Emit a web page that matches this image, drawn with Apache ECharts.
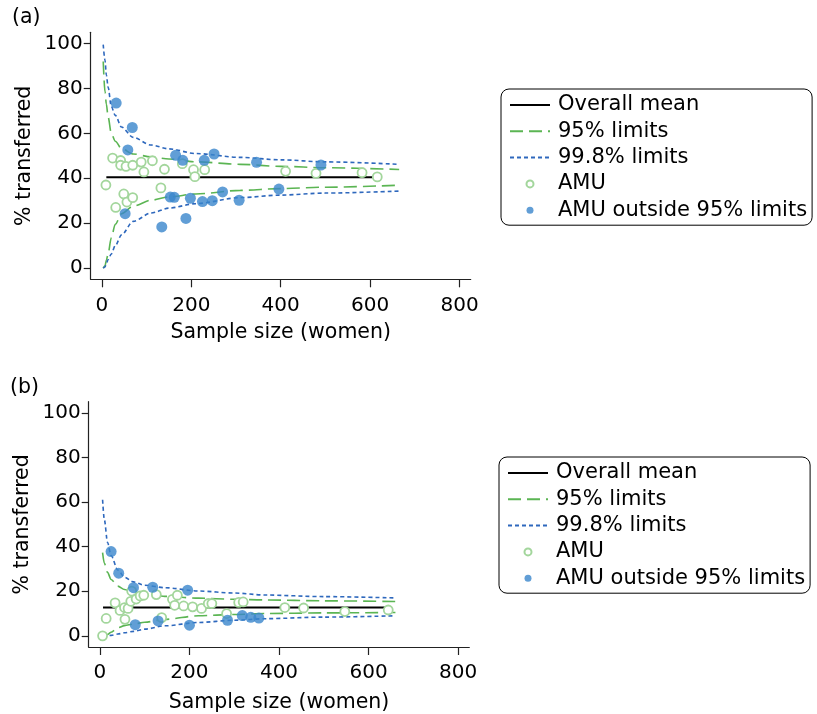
<!DOCTYPE html>
<html>
<head>
<meta charset="utf-8">
<script src="https://cdn.jsdelivr.net/npm/echarts@6/dist/echarts.min.js"></script>
<style>
html,body{margin:0;padding:0;background:#fff;}
#chart{width:817px;height:714px;}
</style>
</head>
<body>
<div id="chart"></div>
<script>
// ---------- Tick labels ----------
const xTicks = [0, 200, 400, 600, 800];
const yTicks = [0, 20, 40, 60, 80, 100];

// ---------- Panel (a) ----------
const aMean = 40.5;
const aMeanFrom = 10;
const aMeanTo = 615;
const aCurveN   = [3, 7, 10, 14, 21, 30, 44, 70, 110, 150, 210, 310, 400, 500, 665];
const aUpper998 = [99.5, 92.5, 86, 80.5, 72, 68, 62.8, 58.2, 54.8, 53.1, 51.0, 49.3, 48.2, 47.3, 46.2];
const aUpper95  = [92, 78.5, 73, 67.3, 60, 56.5, 53.2, 50.8, 49.5, 48.6, 47.3, 46.2, 45.3, 44.7, 43.9];
const aLower95  = [0, 1, 3.5, 6.4, 13.5, 19.5, 24.2, 27.6, 30.2, 31.7, 33.0, 34.6, 35.4, 36.0, 36.9];
const aLower998 = [0, 0.5, 2, 3.8, 6.3, 10, 14.8, 20.8, 24.5, 26.7, 28.7, 31.4, 32.5, 33.4, 34.3];
const aAmuN   = [9, 24, 42, 42, 54, 69, 88, 94, 113, 140, 180, 205, 208, 230, 49, 56, 69, 31, 132, 411, 479, 582, 616];
const aAmuPct = [37.0, 49.0, 47.9, 45.8, 45.3, 45.8, 47.2, 42.8, 47.8, 44.0, 46.5, 43.8, 40.7, 43.8, 33.0, 29.4, 31.4, 27.0, 35.7, 43.1, 42.2, 42.5, 40.6];
const aOutN   = [32, 68, 58, 165, 181, 251, 229, 346, 490, 52, 134, 188, 153, 162, 198, 225, 247, 270, 307, 396];
const aOutPct = [73.5, 62.6, 52.6, 50.2, 48.0, 50.8, 48.0, 47.1, 45.9, 24.2, 18.3, 22.1, 31.6, 31.5, 31.1, 29.6, 30.0, 33.9, 30.2, 35.2];

// ---------- Panel (b) ----------
const bMean = 12.7;
const bMeanFrom = 7;
const bMeanTo = 641;
const bCurveN   = [6, 10, 17, 25, 40, 55, 75, 100, 145, 220, 300, 370, 500, 660];
const bUpper998 = [61, 52, 42, 36, 29.5, 26.3, 24.2, 22.7, 21.6, 20.1, 19.2, 18.3, 17.6, 17.0];
const bUpper95  = [37.3, 32.5, 28.5, 25.3, 22.3, 20.8, 19.5, 18.7, 17.7, 16.9, 16.4, 16.1, 15.7, 15.4];
const bLower95  = [0, 0, 0.6, 1.6, 3.6, 4.6, 5.3, 6.1, 7.4, 9.0, 9.6, 10.0, 10.3, 10.5];
const bLower998 = [0, 0, 0, 0.2, 0.8, 1.4, 2.0, 3.0, 4.5, 6.0, 7.0, 7.7, 8.4, 9.0];
const bAmuN   = [6, 14, 34, 45, 55, 56, 63, 69, 71, 81, 90, 98, 126, 138, 162, 167, 173, 187, 207, 227, 242, 250, 283, 310, 320, 413, 455, 547, 644];
const bAmuPct = [0, 7.8, 14.8, 11.4, 12.7, 7.4, 12.3, 15.5, 20.1, 16.5, 17.9, 18.2, 18.5, 8.2, 16.4, 13.7, 18.2, 13.4, 13.0, 12.3, 14.5, 14.5, 10.0, 15.0, 15.2, 12.7, 12.5, 10.9, 11.6];
const bOutN   = [25, 42, 75, 118, 196, 79, 130, 200, 285, 318, 337, 355];
const bOutPct = [37.8, 28.1, 21.6, 21.8, 20.5, 5.0, 6.7, 4.8, 7.0, 9.1, 8.3, 8.0];

// ---------- Style ----------
const FONT = 'DejaVu Sans';
const GREEN = '#5bb553';
const GREEN_LIGHT = '#a3d69c';
const BLUE = '#3a86cc';
const BLUE_LINE = '#2e68bd';

const zip = (xs, ys) => xs.map((x, i) => [x, ys[i]]);

function axes(idx, xNameGap) {
  return {
    x: {
      type: 'value', gridIndex: idx, min: -25, max: 825,
      name: 'Sample size (women)', nameLocation: 'middle', nameGap: xNameGap,
      nameTextStyle: {fontFamily: FONT, fontSize: 20.5, color: '#000'},
      axisLine: {show: true, onZero: false, lineStyle: {color: '#222', width: 1.2}},
      axisTick: {show: true, length: 8, customValues: xTicks, lineStyle: {color: '#222', width: 1.2}},
      axisLabel: {customValues: xTicks, fontFamily: FONT, fontSize: 20, color: '#000', margin: 16},
      splitLine: {show: false}
    },
    y: {
      type: 'value', gridIndex: idx, min: -5, max: 105,
      name: '% transferred', nameLocation: 'middle', nameGap: 56,
      nameTextStyle: {fontFamily: FONT, fontSize: 20.5, color: '#000'},
      axisLine: {show: true, onZero: false, lineStyle: {color: '#222', width: 1.2}},
      axisTick: {show: true, length: 7, customValues: yTicks, lineStyle: {color: '#222', width: 1.2}},
      axisLabel: {customValues: yTicks, fontFamily: FONT, fontSize: 20, color: '#000', margin: 8},
      splitLine: {show: false}
    }
  };
}

function panelSeries(idx, d) {
  const common = {xAxisIndex: idx, yAxisIndex: idx, silent: true, animation: false};
  const lineCommon = Object.assign({type: 'line', symbol: 'none', smooth: 0.3, smoothMonotone: 'x'}, common);
  return [
    Object.assign({}, lineCommon, {name: 'Overall mean', smooth: false,
      data: [[d.meanFrom, d.mean], [d.meanTo, d.mean]],
      lineStyle: {color: '#000', width: 2}, itemStyle: {color: '#000'}, z: 3}),
    Object.assign({}, lineCommon, {name: '95% limits', data: zip(d.n, d.u95),
      lineStyle: {color: GREEN, width: 1.6, type: [13, 6]}, itemStyle: {color: GREEN}, z: 2}),
    Object.assign({}, lineCommon, {name: '95% limits', data: zip(d.n, d.l95),
      lineStyle: {color: GREEN, width: 1.6, type: [13, 6]}, itemStyle: {color: GREEN}, z: 2}),
    Object.assign({}, lineCommon, {name: '99.8% limits', data: zip(d.n, d.u998),
      lineStyle: {color: BLUE_LINE, width: 1.6, type: [4, 3]}, itemStyle: {color: BLUE_LINE}, z: 2}),
    Object.assign({}, lineCommon, {name: '99.8% limits', data: zip(d.n, d.l998),
      lineStyle: {color: BLUE_LINE, width: 1.6, type: [4, 3]}, itemStyle: {color: BLUE_LINE}, z: 2}),
    Object.assign({type: 'scatter', name: 'AMU', symbol: 'circle', symbolSize: 9,
      data: zip(d.amuN, d.amuPct),
      itemStyle: {color: '#fff', borderColor: GREEN_LIGHT, borderWidth: 1.8, opacity: 1}, z: 4}, common),
    Object.assign({type: 'scatter', name: 'AMU outside 95% limits', symbol: 'circle', symbolSize: 11,
      data: zip(d.outN, d.outPct),
      itemStyle: {color: BLUE, borderWidth: 0}, z: 5}, common)
  ];
}

const hiddenSymbol = {color: 'rgba(0,0,0,0)', borderWidth: 0, opacity: 0};
const legendItems = [
  {name: 'Overall mean', itemStyle: hiddenSymbol},
  {name: '95% limits', itemStyle: hiddenSymbol},
  {name: '99.8% limits', itemStyle: hiddenSymbol},
  {name: 'AMU'},
  {name: 'AMU outside 95% limits'}
];
function legend(left, top) {
  return {
    data: legendItems, orient: 'vertical', left: left, top: top,
    itemWidth: 40, itemHeight: 7, itemGap: 4.3,
    padding: [5, 5, 4, 8],
    borderColor: '#000', borderWidth: 1, borderRadius: 8,
    selectedMode: false,
    textStyle: {fontFamily: FONT, fontSize: 21, color: '#000', lineHeight: 22, padding: [0, 0, 0, 3]}
  };
}

const aAx = axes(0, 43), bAx = axes(1, 45);
const option = {
  backgroundColor: '#fff',
  animation: false,
  grid: [
    {left: 90.7, right: 346.3, top: 32.3, bottom: 434.7, containLabel: false},
    {left: 88.7, right: 347.7, top: 401.7, bottom: 65.7, containLabel: false}
  ],
  xAxis: [aAx.x, bAx.x],
  yAxis: [aAx.y, bAx.y],
  legend: [legend(501, 89), legend(499, 457)],
  graphic: [
    {type: 'text', left: 12, top: 7, style: {text: '(a)', fontFamily: FONT, fontSize: 20.5, fill: '#000'}},
    {type: 'text', left: 10, top: 377, style: {text: '(b)', fontFamily: FONT, fontSize: 20.5, fill: '#000'}}
  ],
  series: [].concat(
    panelSeries(0, {mean: aMean, meanFrom: aMeanFrom, meanTo: aMeanTo, n: aCurveN,
      u95: aUpper95, l95: aLower95, u998: aUpper998, l998: aLower998,
      amuN: aAmuN, amuPct: aAmuPct, outN: aOutN, outPct: aOutPct}),
    panelSeries(1, {mean: bMean, meanFrom: bMeanFrom, meanTo: bMeanTo, n: bCurveN,
      u95: bUpper95, l95: bLower95, u998: bUpper998, l998: bLower998,
      amuN: bAmuN, amuPct: bAmuPct, outN: bOutN, outPct: bOutPct})
  )
};

const chart = echarts.init(document.getElementById('chart'), null, {renderer: 'canvas'});
chart.setOption(option);
</script>
</body>
</html>
